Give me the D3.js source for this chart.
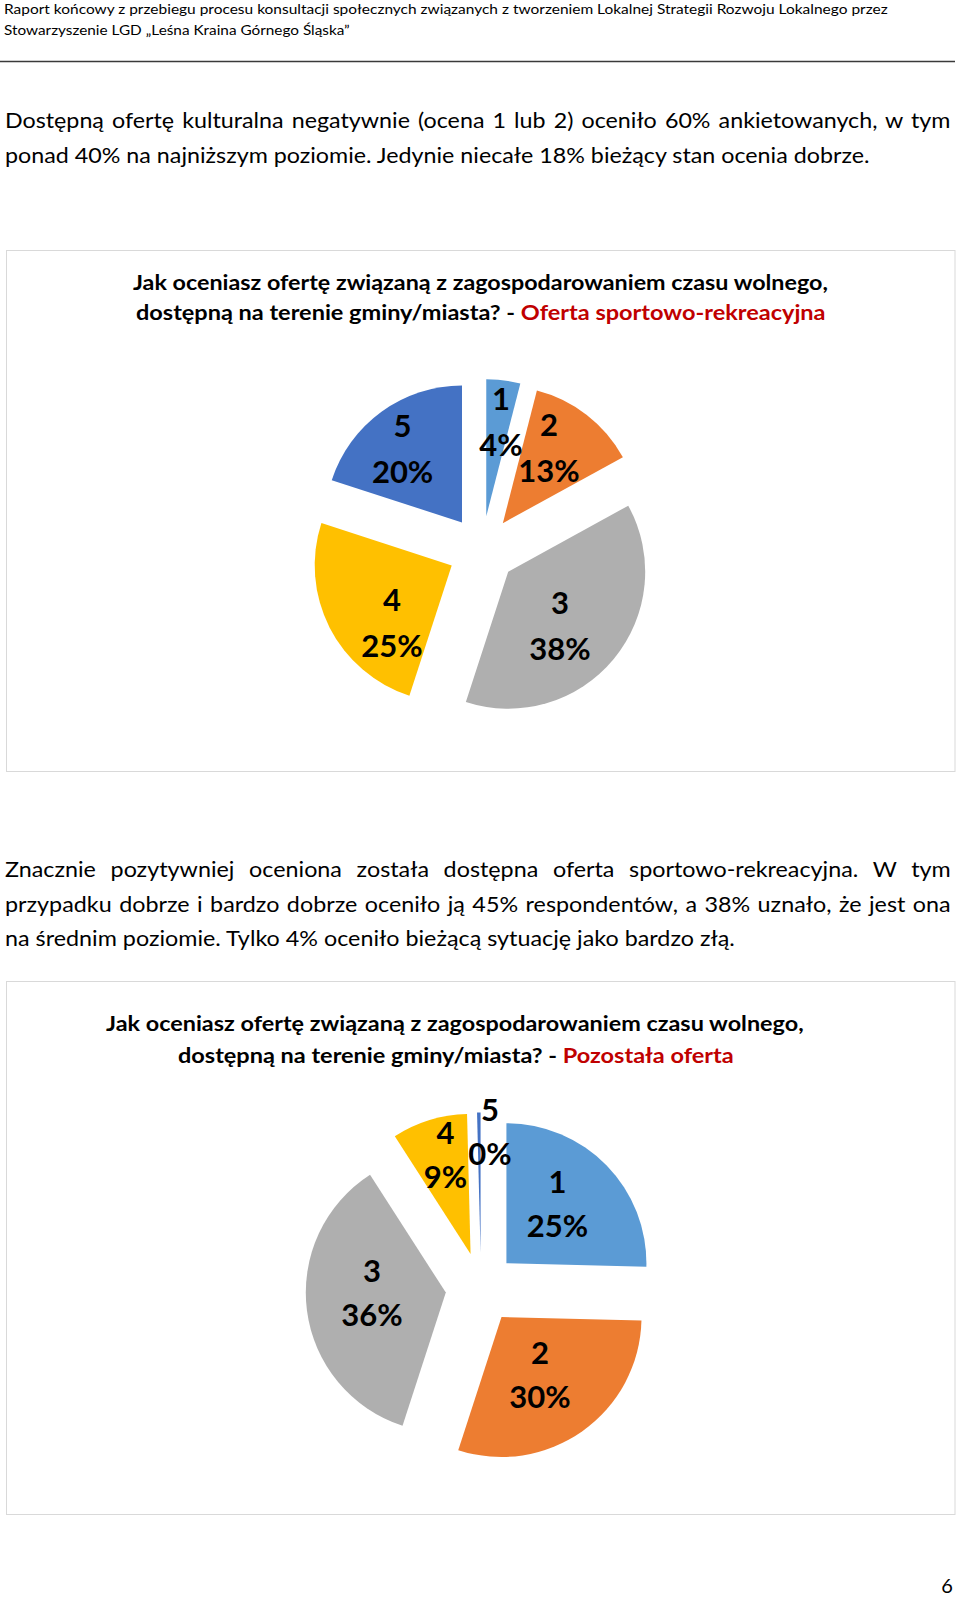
<!DOCTYPE html>
<html><head><meta charset="utf-8">
<script src="https://cdn.jsdelivr.net/npm/d3@7"></script>
<style>html,body{margin:0;padding:0;background:#fff}svg{display:block}</style>
</head><body><div id="chart"></div>
<script>
// ---------- DATA ----------
const headerLines = [
  "Raport końcowy z przebiegu procesu konsultacji społecznych związanych z tworzeniem Lokalnej Strategii Rozwoju Lokalnego przez",
  "Stowarzyszenie LGD „Leśna Kraina Górnego Śląska”"
];
const para1Lines = [
  "Dostępną ofertę kulturalna negatywnie (ocena 1 lub 2) oceniło 60% ankietowanych, w tym",
  "ponad 40% na najniższym poziomie. Jedynie niecałe 18% bieżący stan ocenia dobrze."
];
const para2Lines = [
  "Znacznie pozytywniej oceniona została dostępna oferta sportowo-rekreacyjna. W tym",
  "przypadku dobrze i bardzo dobrze oceniło ją 45% respondentów, a 38% uznało, że jest ona",
  "na średnim poziomie. Tylko 4% oceniło bieżącą sytuację jako bardzo złą."
];
const titleLine1 = "Jak oceniasz ofertę związaną z zagospodarowaniem czasu wolnego,";
const titleLine2 = "dostępną na terenie gminy/miasta? - ";
const chart1Subtitle = "Oferta sportowo-rekreacyjna";
const chart2Subtitle = "Pozostała oferta";
const categories = ["1", "2", "3", "4", "5"];
const sportValues = [4, 13, 38, 25, 20];
const otherValues = [25.4, 29.6, 35.9, 8.7, 0.4];
const pageNumber = "6";

// ---------- STYLE / LAYOUT ----------
const FONT = "Lato, 'Open Sans', sans-serif";
const sliceColors = ["#5B9BD5", "#ED7D31", "#AFAFAF", "#FFC000", "#4472C4"];
const RED = "#C00000";
const W = 960, H = 1599;

const color = d3.scaleOrdinal().domain(categories).range(sliceColors);

const svg = d3.select("#chart").append("svg").attr("width", W).attr("height", H);
svg.append("rect").attr("width", W).attr("height", H).attr("fill", "#fff");

function addText(x, y, size, weight, parts) {
  const t = svg.append("text").attr("x", x).attr("y", y)
    .attr("font-family", FONT).attr("font-size", size).attr("font-weight", weight).attr("fill", "#000");
  parts.forEach(p => t.append("tspan").attr("fill", p.color || "#000").text(p.text));
  return t;
}
function scaleTo(t, x, k) {
  t.attr("transform", `translate(${x},0) scale(${k},1) translate(${-x},0)`);
}
function fitWidth(t, x, width) {
  const w = t.node().getComputedTextLength();
  const k = width / w;
  scaleTo(t, x, k);
  return k;
}
function justify(t, x, width, k) {
  const w = t.node().getComputedTextLength();
  const n = (t.text().match(/ /g) || []).length;
  const extra = width / k - w;
  t.style("word-spacing", (extra / n) + "px");
  scaleTo(t, x, k);
}

// header
const headerLayout = [{y: 14, w: 884}, {y: 35, w: 346}];
headerLines.forEach((s, i) => {
  const t = addText(4, headerLayout[i].y, 14, 400, [{text: s}]);
  fitWidth(t, 4, headerLayout[i].w);
});
svg.append("line").attr("x1", 0).attr("x2", 955).attr("y1", 61.5).attr("y2", 61.5)
  .attr("stroke", "#3a3a3a").attr("stroke-width", 1.5);

// paragraph helper
function paragraph(lines, x, ys, widths, size) {
  const texts = lines.map((s, i) => addText(x, ys[i], size, 400, [{text: s}]));
  const last = texts.length - 1;
  const k = fitWidth(texts[last], x, widths[last]);
  for (let i = 0; i < last; i++) justify(texts[i], x, widths[i], k);
}
paragraph(para1Lines, 5, [128, 163], [946, 865], 21);
paragraph(para2Lines, 5, [877, 912, 946], [946, 946, 730], 21);

// chart boxes
svg.append("rect").attr("x", 6.5).attr("y", 250.5).attr("width", 948.5).attr("height", 521)
  .attr("fill", "none").attr("stroke", "#d9d9d9").attr("stroke-width", 1);
svg.append("rect").attr("x", 6.5).attr("y", 981.5).attr("width", 948.5).attr("height", 533)
  .attr("fill", "none").attr("stroke", "#d9d9d9").attr("stroke-width", 1);

// titles
function title(sub, l1, l2) {
  const t1 = addText(l1.x, l1.y, 20, 700, [{text: titleLine1}]);
  fitWidth(t1, l1.x, l1.w);
  const t2 = addText(l2.x, l2.y, 20, 700, [{text: titleLine2}, {text: sub, color: RED}]);
  fitWidth(t2, l2.x, l2.w);
}
title(chart1Subtitle, {x: 133, y: 290, w: 695}, {x: 136, y: 320, w: 690});
title(chart2Subtitle, {x: 106, y: 1031, w: 698}, {x: 178, y: 1063, w: 556});

// pies
const pie = d3.pie().sort(null).value(d => d.value);
function drawPie(values, cfg) {
  const data = categories.map((c, i) => ({cat: c, value: values[i]}));
  const total = d3.sum(values);
  const arcs = pie(data);
  const arc = d3.arc().innerRadius(0).outerRadius(cfg.r);
  const g = svg.append("g").attr("transform", `translate(${cfg.cx},${cfg.cy})`);
  arcs.forEach((a, i) => {
    const mid = (a.startAngle + a.endAngle) / 2;
    const ox = Math.sin(mid) * cfg.explode, oy = -Math.cos(mid) * cfg.explode;
    g.append("path").attr("d", arc(a)).attr("transform", `translate(${ox},${oy})`)
      .attr("fill", color(a.data.cat));
  });
  arcs.forEach((a, i) => {
    const mid = (a.startAngle + a.endAngle) / 2;
    const lr = cfg.explode + cfg.labelFrac * cfg.r;
    const lx = Math.sin(mid) * lr + cfg.nudge[i][0];
    const ly = -Math.cos(mid) * lr + cfg.nudge[i][1];
    const t = g.append("text").attr("text-anchor", "middle").attr("font-family", FONT)
      .attr("font-size", 31).attr("font-weight", 700).attr("fill", "#000");
    t.append("tspan").attr("x", lx).attr("y", ly - cfg.gap / 2 + 11).text(a.data.cat);
    t.append("tspan").attr("x", lx).attr("y", ly + cfg.gap / 2 + 11)
      .text(Math.round(a.data.value / total * 100) + "%");
  });
}
drawPie(sportValues, {cx: 482, cy: 550, r: 137, explode: 34, labelFrac: 0.62, gap: 46,
  nudge: [[4, -10.5], [-6, -8.5], [-13.6, 0.6], [16, 19.5], [-9.5, -5]]});
drawPie(otherValues, {cx: 481, cy: 1288, r: 140, explode: 35.5, labelFrac: 0.62, gap: 44,
  nudge: [[-11, 1], [-11.7, -12.8], [12.3, -11.2], [0.5, -16], [10.5, -34]]});

// page number
addText(947, 1593, 20, 400, [{text: pageNumber}]).attr("text-anchor", "middle");
</script>
</body></html>
